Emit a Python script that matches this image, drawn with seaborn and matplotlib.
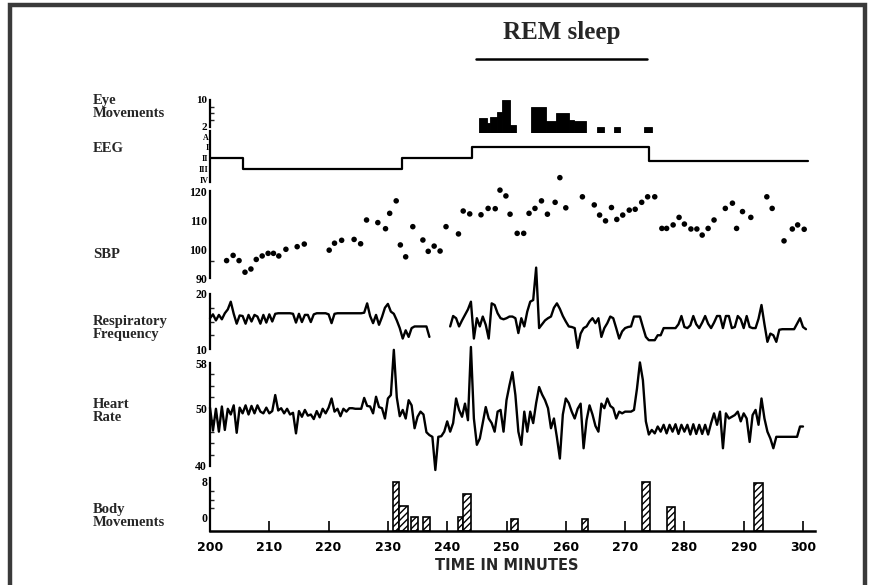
import numpy as np
import pandas as pd
import matplotlib
matplotlib.use("Agg")
import matplotlib.pyplot as plt
import seaborn as sns
from matplotlib.patches import Rectangle
from matplotlib.transforms import blended_transform_factory
from matplotlib.ticker import FixedLocator

# ---------------- data ----------------
time_ticks = [200, 210, 220, 230, 240, 250, 260, 270, 280, 290, 300]
rem_start, rem_end = 244.9, 273.7

# eye movements (bars: start minute, width, height)
eye_start = [245.3, 246.7, 247.3, 248.4, 249.2, 250.6, 254.2, 256.6, 258.4, 260.5, 261.3, 265.3, 268.1, 273.2]
eye_width = [1.4, 0.6, 1.1, 0.8, 1.4, 1.0, 2.4, 1.8, 2.1, 0.8, 2.1, 1.1, 1.1, 1.3]
eye_height = [4.5, 3.0, 5.0, 6.4, 10.0, 2.5, 8.0, 3.8, 6.0, 4.0, 3.8, 2.0, 2.0, 2.0]

# EEG stage (0=A, 1=I, 2=II, 3=III, 4=IV)
eeg_labels = ["A", "I", "II", "III", "IV"]
eeg_t = [200, 205.6, 232.4, 244.2, 274.1, 300.8]
eeg_level = [2, 3, 2, 1, 2.3, 2.3]

# systolic blood pressure
sbp_t = [202.8, 203.9, 204.9, 205.9, 206.9, 207.8, 208.8, 209.8, 210.7, 211.6, 212.8, 214.7, 215.9,
         220.1, 221.0, 222.2, 224.3, 225.4, 226.4, 228.3, 229.6, 230.3, 231.4, 232.1, 233.0, 234.2,
         235.9, 236.8, 237.8, 238.8, 239.8, 241.9, 242.7, 243.8, 245.7, 246.9, 248.1, 248.9, 249.9,
         250.6, 251.8, 252.9, 253.8, 254.8, 255.9, 256.9, 258.2, 259.0, 260.0, 262.8, 264.8, 265.7,
         266.7, 267.7, 268.6, 269.6, 270.7, 271.7, 272.8, 273.8, 275.0, 276.2, 277.0, 278.1, 279.1,
         280.0, 281.1, 282.1, 283.0, 284.0, 285.0, 286.9, 288.1, 288.8, 289.8, 291.2, 293.9, 294.8,
         296.8, 298.2, 299.1, 300.2]
sbp_v = [96.0, 97.8, 96.0, 92.0, 93.1, 96.4, 97.6, 98.5, 98.5, 97.6, 99.9, 100.8, 101.7,
         99.6, 102.0, 103.0, 103.3, 101.8, 110.0, 109.1, 107.0, 112.3, 116.6, 101.4, 97.3, 107.7,
         103.1, 99.2, 101.0, 99.3, 107.7, 105.2, 113.1, 112.1, 111.8, 114.0, 113.9, 120.3, 118.3,
         112.0, 105.4, 105.4, 112.3, 114.0, 116.6, 112.0, 116.1, 124.6, 114.2, 118.0, 115.2, 111.7,
         109.7, 114.3, 110.2, 111.7, 113.4, 113.7, 116.1, 118.0, 118.0, 107.1, 107.1, 108.3, 110.9,
         108.6, 106.9, 106.9, 104.8, 107.1, 110.0, 114.0, 115.8, 107.1, 112.9, 110.9, 118.0, 114.0,
         102.8, 106.9, 108.3, 106.8]

# half-minute samples from 200.0 to 300.5
trace_t = [200 + 0.5 * i for i in range(202)]
nan = float("nan")
resp = [
    15.6, 16.3, 15.2, 16.2, 15.4, 16.5, 17.2, 18.6, 16.4, 14.6,
    16.1, 16.0, 14.6, 16.2, 15.0, 16.2, 15.9, 14.6, 16.2, 14.8,
    16.3, 15.0, 16.4, 16.5, 16.5, 16.5, 16.5, 16.5, 16.4, 14.8,
    16.4, 14.9, 16.2, 16.2, 14.9, 16.3, 16.5, 16.5, 16.5, 16.5,
    16.3, 14.7, 16.4, 16.5, 16.5, 16.5, 16.5, 16.5, 16.5, 16.5,
    16.5, 16.5, 16.6, 18.3, 16.0, 14.7, 16.2, 14.4, 15.8, 17.5,
    18.2, 16.8, 16.4, 15.2, 13.8, 11.9, 13.4, 12.2, 13.8, 14.1,
    14.1, 14.1, 14.1, 14.1, 12.2, nan, nan, nan, nan, nan,
    nan, 14.1, 16.0, 15.6, 14.1, 15.2, 16.2, 17.2, 18.6, 11.9,
    15.6, 14.1, 15.9, 14.4, 11.9, 18.3, 18.0, 16.5, 15.6, 15.4,
    15.6, 15.9, 15.9, 15.6, 12.9, 15.6, 14.1, 16.8, 18.6, 18.9,
    24.8, 13.8, 14.5, 15.2, 15.6, 15.9, 17.5, 18.3, 17.3, 16.0,
    15.0, 14.1, 14.0, 13.8, 10.2, 12.8, 13.8, 14.1, 15.0, 15.6,
    14.7, 15.6, 12.2, 13.8, 14.7, 15.9, 15.6, 13.8, 11.9, 13.2,
    13.8, 14.0, 14.1, 15.9, 15.9, 15.9, 14.0, 12.2, 11.6, 11.6,
    11.6, 12.5, 12.5, 13.8, 13.8, 13.8, 13.8, 13.8, 14.5, 16.0,
    14.0, 13.8, 14.3, 16.0, 14.5, 13.8, 14.8, 16.0, 14.6, 13.8,
    14.8, 16.0, 16.0, 13.8, 16.0, 16.0, 13.8, 14.0, 16.0, 15.4,
    13.8, 16.0, 14.0, 13.8, 13.8, 15.5, 18.0, 14.5, 11.3, 12.8,
    12.5, 11.3, 13.5, 13.6, 13.6, 13.6, 13.6, 13.6, 14.6, 15.6,
    14.0, 13.6]
heart = [
    50.2, 46.2, 50.0, 46.0, 50.4, 46.3, 50.0, 49.0, 50.6, 45.8,
    50.2, 49.2, 50.6, 49.0, 50.5, 49.2, 50.6, 49.5, 49.2, 50.2,
    49.2, 49.6, 52.4, 49.7, 50.1, 49.2, 50.0, 49.0, 49.3, 45.7,
    49.6, 48.6, 49.8, 48.8, 49.0, 48.2, 49.6, 48.5, 50.0, 49.2,
    50.2, 51.8, 49.5, 50.0, 48.7, 50.0, 49.5, 50.1, 50.1, 50.0,
    50.0, 50.0, 51.9, 50.5, 50.4, 49.2, 52.1, 50.3, 50.1, 48.3,
    51.8, 52.4, 60.3, 52.0, 48.7, 49.8, 48.3, 51.5, 50.6, 46.6,
    48.6, 49.5, 49.0, 45.9, 45.4, 45.1, 39.3, 45.1, 45.2, 46.0,
    47.8, 46.0, 47.5, 51.8, 49.8, 48.6, 50.9, 48.0, 60.8, 48.3,
    43.7, 44.8, 47.5, 50.3, 48.3, 47.5, 46.0, 49.5, 49.8, 46.0,
    51.5, 54.1, 56.4, 52.4, 46.0, 43.7, 49.5, 46.0, 49.5, 47.5,
    51.0, 53.8, 52.5, 51.5, 50.1, 46.6, 48.3, 45.0, 41.3, 49.0,
    51.8, 51.0, 49.5, 48.3, 50.0, 50.9, 43.1, 48.0, 50.6, 49.0,
    47.0, 46.0, 50.9, 50.1, 51.8, 50.5, 50.1, 48.3, 49.5, 49.2,
    49.5, 49.5, 49.5, 49.8, 53.5, 58.1, 55.0, 47.8, 45.5, 46.3,
    45.7, 46.9, 46.0, 47.2, 45.7, 47.2, 46.0, 47.3, 45.6, 47.2,
    46.0, 47.2, 45.5, 47.3, 45.6, 47.2, 45.6, 47.2, 45.5, 47.5,
    49.2, 47.2, 49.5, 43.1, 49.2, 48.3, 48.6, 48.9, 49.5, 47.8,
    49.2, 48.3, 44.2, 48.9, 49.8, 47.2, 51.8, 48.3, 46.0, 44.8,
    43.1, 45.1, 45.1, 45.1, 45.1, 45.1, 45.1, 45.1, 45.1, 46.9,
    46.9, nan]

# body movements (bars)
body_start = [230.8, 231.9, 233.9, 236.0, 241.9, 242.7, 250.7, 262.7, 272.9, 277.1, 291.8]
body_width = [1.1, 1.5, 1.1, 1.1, 0.8, 1.3, 1.2, 1.1, 1.3, 1.3, 1.4]
body_height = [8.0, 2.5, 0.0, 0.0, 0.0, 5.3, -0.4, -0.5, 8.0, 2.4, 7.8]

# ---------------- figure ----------------
sns.set_theme(style="white")
plt.rcParams['font.family'] = ['Liberation Serif', 'DejaVu Sans']
plt.rcParams['hatch.linewidth'] = 1.0

W, H = 874, 585
fig = plt.figure(figsize=(W / 100, H / 100), dpi=100)
fig.patch.set_facecolor('white')

X0_PX, XMIN, XMAX, PPM = 210, 200, 302, 5.93
AX_W = (XMAX - XMIN) * PPM


def panel(top, bottom, ref_val, ref_px, ppu, invert=False):
    ax = fig.add_axes([X0_PX / W, 1 - bottom / H, AX_W / W, (bottom - top) / H])
    if invert:
        v_top = ref_val - (ref_px - top) / ppu
        v_bot = ref_val + (bottom - ref_px) / ppu
    else:
        v_top = ref_val + (ref_px - top) / ppu
        v_bot = ref_val - (bottom - ref_px) / ppu
    ax.set_ylim(v_bot, v_top)
    ax.set_xlim(XMIN, XMAX)
    ax.patch.set_alpha(0)
    for s in ['top', 'right', 'bottom']:
        ax.spines[s].set_visible(False)
    ax.spines['left'].set_color('black')
    ax.spines['left'].set_linewidth(1.6)
    ax.set_xticks([])
    ax.tick_params(axis='y', which='major', direction='in', length=5, width=1.4,
                   pad=2, colors='black')
    ax.tick_params(axis='y', which='minor', direction='in', length=3, width=1.0,
                   left=True)
    ax.grid(False)
    return ax


def ylabels(ax, ticks, labels, size=8.5):
    ax.set_yticks(ticks)
    ax.set_yticklabels(labels, fontweight='bold', fontsize=size, family='Liberation Serif')


# Eye movements
ax_eye = panel(100, 133.3, 10, 100, 3.33)
ax_eye.bar(eye_start, eye_height, width=eye_width, align='edge', color='black',
           edgecolor='black', linewidth=0.6)
ax_eye.spines['left'].set_bounds(2, 10)
ylabels(ax_eye, [2, 10], ['2', '10'], size=8)
ax_eye.yaxis.set_minor_locator(FixedLocator([4, 6, 8]))

# EEG
ax_eeg = panel(131, 182, 0, 136.5, 10.8, invert=True)
sns.lineplot(x=eeg_t, y=eeg_level, drawstyle='steps-post', color='black', linewidth=1.6,
             estimator=None, sort=False, ax=ax_eeg)
ylabels(ax_eeg, [0, 1, 2, 3, 4], eeg_labels, size=5.8)
ax_eeg.tick_params(axis='y', length=4, pad=1)

# SBP
ax_sbp = panel(189, 282, 120, 191, 2.9)
sns.scatterplot(x=sbp_t, y=sbp_v, s=16, color='black', edgecolor='none', ax=ax_sbp,
                clip_on=False)
ax_sbp.spines['left'].set_bounds(90, 120)
ylabels(ax_sbp, [90, 100, 110, 120], ['90', '100', '110', '120'])
ax_sbp.yaxis.set_minor_locator(FixedLocator([96]))


def trace_frame(values):
    df = pd.DataFrame({'t': trace_t, 'v': values})
    df['seg'] = df['v'].isna().cumsum()
    return df.dropna()


# Respiratory frequency
ax_resp = panel(291, 351, 20, 294, 5.5)
sns.lineplot(data=trace_frame(resp), x='t', y='v', units='seg', estimator=None,
             color='black', linewidth=1.7, ax=ax_resp, clip_on=False)
ax_resp.spines['left'].set_bounds(10, 20)
ylabels(ax_resp, [10, 20], ['10', '20'])
ax_resp.yaxis.set_minor_locator(FixedLocator([12.5, 15, 17.5]))

# Heart rate
ax_hr = panel(361, 468, 58, 363, 5.722)
sns.lineplot(data=trace_frame(heart), x='t', y='v', units='seg', estimator=None,
             color='black', linewidth=1.7, ax=ax_hr, clip_on=False)
ax_hr.spines['left'].set_bounds(40, 58)
ylabels(ax_hr, [40, 50, 58], ['40', '50', '58'])
ax_hr.yaxis.set_minor_locator(FixedLocator([42, 44, 46, 48, 52, 54, 56]))

for a in (ax_eeg, ax_sbp, ax_resp, ax_hr):
    a.set_xlabel('')
    a.set_ylabel('')
    a.set_xticks([])

# Body movements
ax_body = panel(478, 531, 0, 517, 4.375)
lo = ax_body.get_ylim()[0]
ax_body.bar(body_start, [h - lo for h in body_height], bottom=lo, width=body_width,
            align='edge', facecolor='white', edgecolor='black', hatch='/////',
            linewidth=1.2)
ylabels(ax_body, [0, 8], ['0', '8'])
ax_body.yaxis.set_minor_locator(FixedLocator([2, 4, 6]))
ax_body.spines['bottom'].set_visible(True)
ax_body.spines['bottom'].set_color('black')
ax_body.spines['bottom'].set_linewidth(1.8)
ax_body.set_xticks(time_ticks)
ax_body.set_xticklabels([str(t) for t in time_ticks], fontweight='bold', fontsize=9,
                        family='DejaVu Sans')
ax_body.tick_params(axis='x', direction='in', length=7, width=1.2, pad=7, colors='black',
                    bottom=True)

# Left-hand row labels
row_labels = [("Eye\nMovements", 107), ("EEG", 148), ("SBP", 255),
              ("Respiratory\nFrequency", 328), ("Heart\nRate", 411),
              ("Body\nMovements", 516)]
for txt, ypx in row_labels:
    fig.text(93 / W, 1 - ypx / H, txt, ha='left', va='center', fontweight='bold',
             fontsize=10.5, linespacing=0.95, family='Liberation Serif')

fig.text(507 / W, 1 - 566 / H, "TIME IN MINUTES", ha='center', va='center',
         family='DejaVu Sans', fontweight='bold', fontsize=10.5)

# REM sleep marker
trans = blended_transform_factory(ax_eye.transData, fig.transFigure)
ax_eye.plot([rem_start, rem_end], [1 - 59 / H, 1 - 59 / H], transform=trans,
            color='black', linewidth=1.8, clip_on=False)
ax_eye.text((rem_start + rem_end) / 2, 1 - 32 / H, "REM sleep", transform=trans,
            ha='center', va='center', fontsize=18, fontweight='bold',
            family='Liberation Serif')

# Frame around the figure
fig.add_artist(Rectangle((10 / W, -0.05), (865 - 10) / W, 1.05 - 5 / H,
                         transform=fig.transFigure, fill=False, edgecolor='#3a3a3a',
                         linewidth=3.2))

fig.savefig('out.png', dpi=100, facecolor='white')
